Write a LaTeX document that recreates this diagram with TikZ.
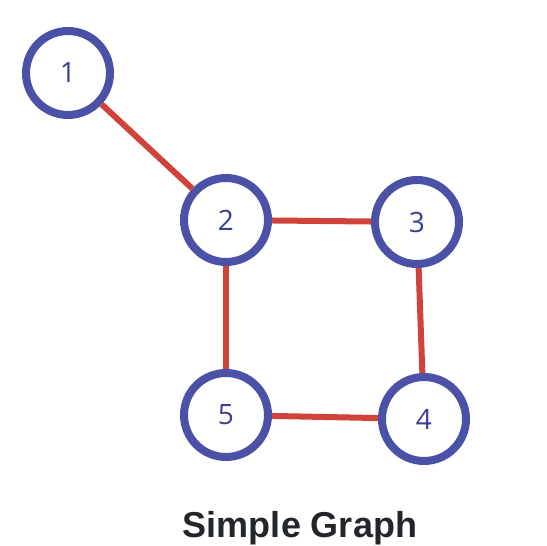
\documentclass[tikz,border=0pt]{standalone}
\usepackage{fontspec}
\setmainfont{Liberation Sans}
\newfontfamily\numfont{Open Sans}
\definecolor{ringblue}{HTML}{4A51A6}
\definecolor{numblue}{HTML}{3A3F95}
\definecolor{edgered}{HTML}{D0433A}
\definecolor{captext}{HTML}{23272B}
\tikzset{
  vtx/.style={circle, draw=ringblue, line width=8pt, fill=white, minimum size=84pt, inner sep=0pt, text=numblue, font=\numfont\fontsize{28}{28}\selectfont},
  edg/.style={draw=edgered, line width=6pt},
}
\begin{document}
\begin{tikzpicture}[x=1pt,y=-1pt]
\useasboundingbox (0,0) rectangle (547,546);
\node[vtx] (n1) at (68,73) {1};
\node[vtx] (n2) at (226,220) {2};
\node[vtx] (n3) at (417,222) {3};
\node[vtx] (n4) at (424,419) {4};
\node[vtx] (n5) at (226,415) {5};
\path[edg] (n1) -- (n2);
\path[edg] (n2) -- (n3);
\path[edg] (n2) -- (n5);
\path[edg] (n3) -- (n4);
\path[edg] (n5) -- (n4);
\node[font=\bfseries\fontsize{36}{36}\selectfont, text=captext, anchor=base] (cap) at (300,537) {Simple Graph};
\end{tikzpicture}
\end{document}
